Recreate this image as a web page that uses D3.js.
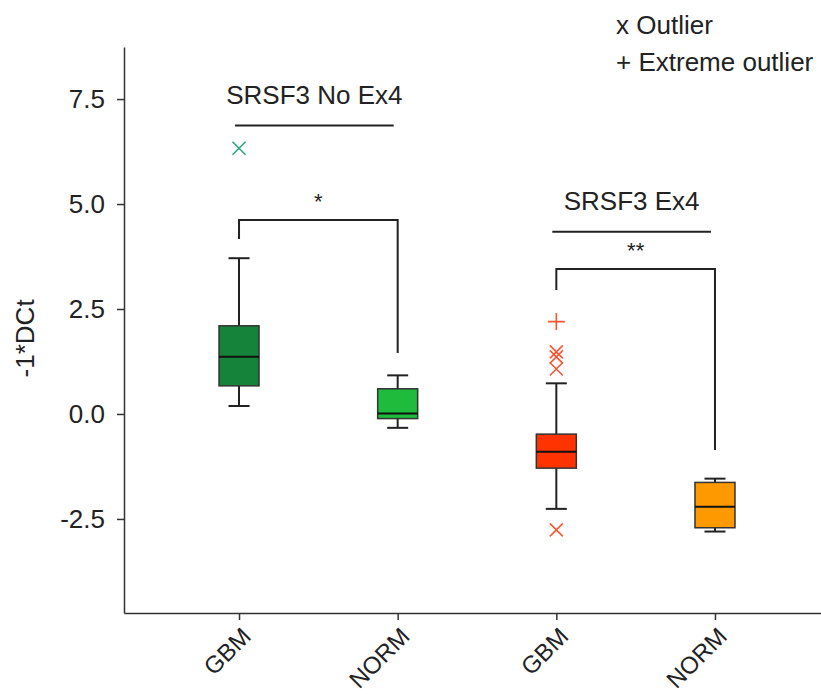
<!DOCTYPE html>
<html>
<head>
<meta charset="utf-8">
<script src="https://cdn.jsdelivr.net/npm/d3@7"></script>
<style>
    body { margin: 0; background: #fff; }
    svg { font-family: Arial, "Liberation Sans", sans-serif; }
    .axis path, .axis line { stroke: #333; stroke-width: 1.5; }
    .axis text { fill: #222; }
</style>
</head>
<body>
<svg id="chart"></svg>
<script>
// data
const categories = ['GBM', 'NORM', 'GBM', 'NORM'];
const groups = ['SRSF3 No Ex4', 'SRSF3 No Ex4', 'SRSF3 Ex4', 'SRSF3 Ex4'];
const whiskerHi = [3.71, 0.92, 0.73, -1.54];
const q3 = [2.10, 0.60, -0.48, -1.63];
const median = [1.36, 0.01, -0.90, -2.21];
const q1 = [0.67, -0.11, -1.29, -2.71];
const whiskerLo = [0.19, -0.33, -2.26, -2.80];
const outliers = [[6.33], [], [1.48, 1.36, 1.07, -2.76], []];
const extremes = [[], [], [2.20], []];
const boxColors = ['#15843a', '#1fbb3d', '#ff3300', '#ff9900'];
const markColors = ['#2aa87a', '#2aa87a', '#ff5533', '#ff5533'];
const yTicks = [-2.5, 0, 2.5, 5, 7.5];
const legendLabels = ['x Outlier', '+ Extreme outlier'];

// group headers and significance brackets (indices into categories)
const headers = [
    { label: 'SRSF3 No Ex4', from: 0, to: 1, y: 6.87 },
    { label: 'SRSF3 Ex4', from: 2, to: 3, y: 4.34 }
];
const brackets = [
    { label: '*', from: 0, to: 1, top: 4.62, left: 4.17, right: 1.45 },
    { label: '**', from: 2, to: 3, top: 3.45, left: 2.95, right: -0.86 }
];

const width = 821,
    height = 694,
    margin = { top: 47, left: 124, bottom: 81 };

const svg = d3.select('#chart')
    .attr('width', width)
    .attr('height', height);

const x = d3.scalePoint()
    .domain(d3.range(categories.length))
    .range([margin.left, 830])
    .padding(0.725);

const y = d3.scaleLinear()
    .domain([-4.74, 8.74])
    .range([height - margin.bottom, margin.top]);

// y axis
const yAxis = svg.append('g')
    .attr('class', 'axis')
    .attr('transform', `translate(${margin.left},0)`)
    .call(d3.axisLeft(y)
        .tickValues(yTicks)
        .tickFormat(d => d.toFixed(1))
        .tickSize(7)
        .tickSizeOuter(0)
        .tickPadding(12));

yAxis.selectAll('.tick text')
    .style('font-size', '26px');

svg.append('text')
    .attr('transform', `translate(34,${y(1.8)}) rotate(-90)`)
    .attr('text-anchor', 'middle')
    .style('font-size', '26px')
    .style('fill', '#222')
    .text('-1*DCt');

// x axis
const xAxis = svg.append('g')
    .attr('class', 'axis')
    .attr('transform', `translate(0,${height - margin.bottom})`)
    .call(d3.axisBottom(x)
        .tickFormat(i => categories[i])
        .tickSize(7)
        .tickSizeOuter(0));

xAxis.selectAll('.tick text')
    .style('font-size', '24px')
    .attr('x', 0)
    .attr('y', 0)
    .attr('dy', '0.35em')
    .attr('text-anchor', 'end')
    .attr('transform', 'translate(7,19) rotate(-45)');

// boxes
const boxW = 40,
    capW = 21;

const box = svg.append('g')
    .selectAll('g')
    .data(categories)
    .enter().append('g')
    .attr('transform', (d, i) => `translate(${x(i)},0)`);

box.append('line')
    .attr('y1', (d, i) => y(whiskerHi[i]))
    .attr('y2', (d, i) => y(whiskerLo[i]))
    .attr('stroke', '#222')
    .attr('stroke-width', 2);

box.append('line')
    .attr('x1', -capW / 2)
    .attr('x2', capW / 2)
    .attr('y1', (d, i) => y(whiskerHi[i]))
    .attr('y2', (d, i) => y(whiskerHi[i]))
    .attr('stroke', '#222')
    .attr('stroke-width', 2);

box.append('line')
    .attr('x1', -capW / 2)
    .attr('x2', capW / 2)
    .attr('y1', (d, i) => y(whiskerLo[i]))
    .attr('y2', (d, i) => y(whiskerLo[i]))
    .attr('stroke', '#222')
    .attr('stroke-width', 2);

box.append('rect')
    .attr('x', -boxW / 2)
    .attr('width', boxW)
    .attr('y', (d, i) => y(q3[i]))
    .attr('height', (d, i) => y(q1[i]) - y(q3[i]))
    .attr('fill', (d, i) => boxColors[i])
    .attr('stroke', '#333')
    .attr('stroke-width', 1.5);

box.append('line')
    .attr('x1', -boxW / 2)
    .attr('x2', boxW / 2)
    .attr('y1', (d, i) => y(median[i]))
    .attr('y2', (d, i) => y(median[i]))
    .attr('stroke', '#111')
    .attr('stroke-width', 2);

// outliers (x) and extreme outliers (+)
const m = 6.5;
box.each(function(d, i) {
    const g = d3.select(this);
    g.selectAll('path.out')
        .data(outliers[i])
        .enter().append('path')
        .attr('class', 'out')
        .attr('d', v => `M${-m},${y(v) - m}L${m},${y(v) + m}M${-m},${y(v) + m}L${m},${y(v) - m}`)
        .attr('stroke', markColors[i])
        .attr('stroke-width', 1.6)
        .attr('fill', 'none');
    g.selectAll('path.ext')
        .data(extremes[i])
        .enter().append('path')
        .attr('class', 'ext')
        .attr('d', v => `M${-m - 2},${y(v)}L${m + 2},${y(v)}M0,${y(v) - m - 2}L0,${y(v) + m + 2}`)
        .attr('stroke', markColors[i])
        .attr('stroke-width', 1.6)
        .attr('fill', 'none');
});

// group headers
headers.forEach(h => {
    svg.append('line')
        .attr('x1', x(h.from) - 4)
        .attr('x2', x(h.to) - 4)
        .attr('y1', y(h.y))
        .attr('y2', y(h.y))
        .attr('stroke', '#222')
        .attr('stroke-width', 2);
    svg.append('text')
        .attr('x', (x(h.from) + x(h.to)) / 2 - 4)
        .attr('y', y(h.y) - 22)
        .attr('text-anchor', 'middle')
        .style('font-size', '26px')
        .style('fill', '#222')
        .text(h.label);
});

// significance brackets
brackets.forEach(b => {
    svg.append('path')
        .attr('d', `M${x(b.from)},${y(b.left)}V${y(b.top)}H${x(b.to)}V${y(b.right)}`)
        .attr('fill', 'none')
        .attr('stroke', '#222')
        .attr('stroke-width', 2);
    svg.append('text')
        .attr('x', (x(b.from) + x(b.to)) / 2)
        .attr('y', y(b.top) - 11)
        .attr('text-anchor', 'middle')
        .style('font-size', '22px')
        .style('fill', '#222')
        .text(b.label);
});

// legend
svg.append('g')
    .selectAll('text')
    .data(legendLabels)
    .enter().append('text')
    .attr('x', 616)
    .attr('y', (d, i) => 34 + i * 37)
    .style('font-size', '26px')
    .style('fill', '#222')
    .text(d => d);
</script>
</body>
</html>
